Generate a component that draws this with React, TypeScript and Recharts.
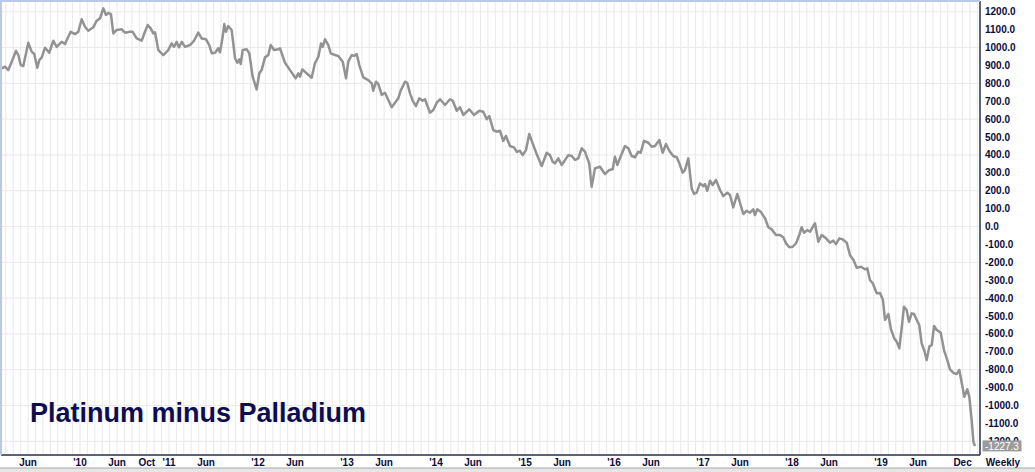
import React from "react";
import { LineChart, Line, XAxis, YAxis, CartesianGrid } from "recharts";

// Weekly observation dates (decimal years) and Platinum minus Palladium spread values
const dates: number[] = [
  2009.120, 2009.157, 2009.194, 2009.233, 2009.281, 2009.307, 2009.334, 2009.363, 2009.419, 2009.457,
  2009.486, 2009.520, 2009.543, 2009.570, 2009.607, 2009.655, 2009.700, 2009.738, 2009.794, 2009.831,
  2009.895, 2009.944, 2009.981, 2010.019, 2010.056, 2010.093, 2010.149, 2010.188, 2010.225, 2010.262,
  2010.292, 2010.318, 2010.348, 2010.374, 2010.412, 2010.469, 2010.506, 2010.562, 2010.592, 2010.637,
  2010.693, 2010.730, 2010.761, 2010.794, 2010.824, 2010.843, 2010.880, 2010.936, 2010.992, 2011.030,
  2011.056, 2011.086, 2011.112, 2011.143, 2011.180, 2011.236, 2011.281, 2011.329, 2011.367, 2011.416,
  2011.453, 2011.480, 2011.517, 2011.554, 2011.573, 2011.603, 2011.621, 2011.640, 2011.666, 2011.704,
  2011.742, 2011.767, 2011.790, 2011.806, 2011.828, 2011.873, 2011.902, 2011.940, 2011.985, 2012.015,
  2012.041, 2012.079, 2012.116, 2012.143, 2012.180, 2012.228, 2012.247, 2012.303, 2012.360, 2012.423,
  2012.453, 2012.472, 2012.498, 2012.539, 2012.603, 2012.640, 2012.678, 2012.708, 2012.727, 2012.753,
  2012.790, 2012.817, 2012.865, 2012.902, 2012.952, 2012.989, 2013.015, 2013.053, 2013.079, 2013.109,
  2013.138, 2013.183, 2013.239, 2013.278, 2013.295, 2013.326, 2013.352, 2013.390, 2013.427, 2013.464,
  2013.502, 2013.539, 2013.576, 2013.603, 2013.652, 2013.677, 2013.708, 2013.738, 2013.775, 2013.812,
  2013.850, 2013.876, 2013.932, 2013.970, 2014.008, 2014.045, 2014.101, 2014.157, 2014.188, 2014.233,
  2014.270, 2014.307, 2014.374, 2014.427, 2014.487, 2014.531, 2014.570, 2014.599, 2014.644, 2014.682,
  2014.719, 2014.756, 2014.786, 2014.831, 2014.876, 2014.907, 2014.944, 2014.974, 2015.011, 2015.048,
  2015.093, 2015.131, 2015.188, 2015.244, 2015.281, 2015.311, 2015.337, 2015.374, 2015.412, 2015.487,
  2015.525, 2015.562, 2015.599, 2015.637, 2015.674, 2015.700, 2015.722, 2015.749, 2015.786, 2015.843,
  2015.873, 2015.899, 2015.947, 2015.985, 2016.011, 2016.037, 2016.067, 2016.123, 2016.161, 2016.199,
  2016.236, 2016.273, 2016.300, 2016.337, 2016.386, 2016.424, 2016.461, 2016.509, 2016.547, 2016.584,
  2016.621, 2016.666, 2016.705, 2016.734, 2016.772, 2016.798, 2016.835, 2016.873, 2016.899, 2016.929,
  2016.966, 2017.003, 2017.022, 2017.048, 2017.079, 2017.109, 2017.146, 2017.191, 2017.228, 2017.273,
  2017.303, 2017.340, 2017.385, 2017.415, 2017.453, 2017.491, 2017.528, 2017.565, 2017.584, 2017.610,
  2017.648, 2017.697, 2017.734, 2017.772, 2017.820, 2017.865, 2017.902, 2017.933, 2017.970, 2018.008,
  2018.045, 2018.082, 2018.109, 2018.135, 2018.172, 2018.203, 2018.240, 2018.258, 2018.296, 2018.334,
  2018.382, 2018.427, 2018.464, 2018.494, 2018.532, 2018.570, 2018.615, 2018.652, 2018.689, 2018.727,
  2018.775, 2018.820, 2018.846, 2018.876, 2018.907, 2018.952, 2018.989, 2019.022, 2019.045, 2019.082,
  2019.112, 2019.149, 2019.176, 2019.206, 2019.232, 2019.258, 2019.288, 2019.314, 2019.345, 2019.371,
  2019.393, 2019.430, 2019.457, 2019.487, 2019.513, 2019.543, 2019.570, 2019.596, 2019.626, 2019.671,
  2019.708, 2019.745, 2019.775, 2019.820, 2019.850, 2019.880, 2019.907, 2019.936, 2019.970, 2019.992,
  2020.019, 2020.038, 2020.056,
];

const spread: number[] = [
  884, 893, 874, 921, 982, 958, 902, 897, 1027, 977,
  964, 887, 930, 945, 999, 971, 1038, 1004, 1032, 1020,
  1088, 1075, 1088, 1158, 1116, 1094, 1113, 1150, 1163, 1219,
  1182, 1194, 1187, 1079, 1098, 1102, 1083, 1088, 1088, 1051,
  1038, 1088, 1126, 1107, 1079, 1085, 986, 958, 986, 1023,
  1004, 1032, 1001, 1032, 1004, 1014, 1038, 1083, 1051, 1046,
  1014, 968, 971, 996, 973, 1060, 1131, 1088, 1120, 1098,
  940, 915, 934, 908, 986, 990, 968, 837, 766, 856,
  874, 945, 958, 1014, 986, 990, 996, 915, 874, 828,
  856, 837, 878, 859, 831, 912, 949, 1023, 1004, 1046,
  1014, 968, 958, 953, 921, 828, 921, 958, 953, 964,
  902, 833, 818, 800, 759, 809, 796, 735, 747, 707,
  666, 692, 716, 759, 809, 803, 744, 703, 673, 716,
  703, 711, 636, 651, 692, 711, 679, 711, 703, 647,
  666, 623, 655, 623, 647, 641, 599, 617, 539, 530,
  535, 479, 506, 450, 442, 418, 423, 399, 427, 517,
  455, 405, 338, 412, 399, 362, 353, 381, 344, 399,
  394, 372, 381, 437, 418, 381, 353, 222, 325, 334,
  312, 293, 316, 320, 390, 344, 381, 450, 437, 394,
  387, 418, 412, 479, 468, 446, 450, 483, 412, 461,
  423, 394, 387, 353, 301, 316, 381, 213, 182, 189,
  241, 226, 237, 200, 256, 232, 260, 204, 170, 189,
  176, 107, 182, 133, 70, 88, 77, 96, 64, 96,
  83, 46, -4, -16, -47, -47, -60, -94, -116, -113,
  -94, -47, -4, -35, -20, -29, 3, 18, -85, -47,
  -66, -90, -79, -98, -66, -72, -90, -160, -185, -230,
  -225, -239, -234, -299, -317, -373, -372, -411, -522, -489,
  -574, -625, -643, -680, -569, -448, -466, -532, -485, -489,
  -513, -550, -653, -694, -746, -671, -662, -556, -578, -593,
  -690, -746, -798, -820, -824, -802, -873, -951, -909, -951,
  -1081, -1202, -1227.3,
];

// X-axis labels: [year, month (1-12), text]
const xLabels: [number, number, string][] = [
  [2009, 6, "Jun"], [2010, 1, "'10"], [2010, 6, "Jun"], [2010, 10, "Oct"],
  [2011, 1, "'11"], [2011, 6, "Jun"], [2012, 1, "'12"], [2012, 6, "Jun"],
  [2013, 1, "'13"], [2013, 6, "Jun"], [2014, 1, "'14"], [2014, 6, "Jun"],
  [2015, 1, "'15"], [2015, 6, "Jun"], [2016, 1, "'16"], [2016, 6, "Jun"],
  [2017, 1, "'17"], [2017, 6, "Jun"], [2018, 1, "'18"], [2018, 6, "Jun"],
  [2019, 1, "'19"], [2019, 6, "Jun"], [2019, 12, "Dec"],
];

// Y-axis tick values (every 100)
const yTicks: number[] = [
  -1200, -1100, -1000, -900, -800, -700, -600, -500, -400, -300, -200, -100,
  0, 100, 200, 300, 400, 500, 600, 700, 800, 900, 1000, 1100, 1200,
];

const X_DOMAIN: [number, number] = [2009.1124, 2020.1124];
const Y_DOMAIN: [number, number] = [-1276.5, 1260];

const monthTicks: number[] = [];
for (let y = 2009; y <= 2020; y++) {
  for (let m = 0; m < 12; m++) {
    const t = y + m / 12;
    if (t > X_DOMAIN[0] && t < X_DOMAIN[1]) monthTicks.push(t);
  }
}

const data = dates.map((t, i) => ({ t, v: spread[i] }));
const lastValue = spread[spread.length - 1];
const yAxisTicks = [...yTicks, lastValue];

const FONT = "'Liberation Sans', Arial, sans-serif";
const LABEL_COLOR = "#0b0b3b";

const formatX = (v: number) => {
  const hit = xLabels.find(([y, m]) => Math.abs(y + (m - 1) / 12 - v) < 1e-4);
  return hit ? hit[2] : "";
};

const YTick = (props: any) => {
  const { x, y, payload } = props;
  const v: number = payload.value;
  if (v === lastValue) {
    return (
      <g>
        <rect x={x - 2.5} y={y - 5.8} width={39} height={11} fill="#9b9b9b" />
        <text x={x} y={y} dy="0.355em" fill="#ffffff" fontSize={10} fontFamily={FONT}>
          {v.toFixed(1)}
        </text>
      </g>
    );
  }
  return (
    <text x={x} y={y} dy="0.355em" fill={LABEL_COLOR} fontSize={10} fontWeight="bold" fontFamily={FONT}>
      {v.toFixed(1)}
    </text>
  );
};

export default function App() {
  return (
    <div style={{ position: "fixed", left: 0, top: 0, width: 1035, height: 472, background: "#ffffff" }}>
      <LineChart width={1035} height={472} data={data} margin={{ top: 1, left: 1, right: 0, bottom: 0 }}>
        <CartesianGrid stroke="#e9e9e9" strokeWidth={1} yAxisId="grid" />
        <XAxis
          dataKey="t"
          type="number"
          domain={X_DOMAIN}
          allowDataOverflow
          ticks={monthTicks}
          interval={0}
          tickFormatter={formatX}
          tickLine={false}
          tickSize={0}
          tickMargin={3.5}
          height={17}
          axisLine={{ stroke: "#283250", strokeWidth: 1.5 }}
          tick={{ fill: LABEL_COLOR, fontSize: 10, fontWeight: "bold", fontFamily: FONT }}
        />
        <YAxis
          yAxisId="grid"
          type="number"
          domain={Y_DOMAIN}
          allowDataOverflow
          ticks={yTicks}
          hide
        />
        <YAxis
          yAxisId="main"
          orientation="right"
          type="number"
          domain={Y_DOMAIN}
          allowDataOverflow
          ticks={yAxisTicks}
          interval={0}
          width={55}
          tickLine={false}
          tickSize={0}
          tickMargin={5}
          axisLine={{ stroke: "#283250", strokeWidth: 1.5 }}
          tick={<YTick />}
        />
        <Line
          yAxisId="main"
          type="linear"
          dataKey="v"
          stroke="#929292"
          strokeWidth={2.5}
          strokeLinejoin="round"
          dot={false}
          activeDot={false}
          isAnimationActive={false}
        />
      </LineChart>
      <svg
        width={1035}
        height={472}
        style={{ position: "absolute", left: 0, top: 0, pointerEvents: "none" }}
      >
        <line x1={0} y1={1} x2={980} y2={1} stroke="#b9c8e6" strokeWidth={2} />
        <line x1={1} y1={0} x2={1} y2={455} stroke="#b9c8e6" strokeWidth={2} />
        <text x={30} y={421.5} fontSize={27} fontWeight="bold" fill="#0d0d52" fontFamily={FONT}>
          Platinum minus Palladium
        </text>
        <text x={1003} y={466} textAnchor="middle" fontSize={10} fontWeight="bold" fill={LABEL_COLOR} fontFamily={FONT}>
          Weekly
        </text>
        <rect x={0} y={468} width={1035} height={4} fill="#e6e6e6" />
        <line x1={0} y1={468} x2={1035} y2={468} stroke="#a8a8a8" strokeWidth={1} />
      </svg>
    </div>
  );
}
